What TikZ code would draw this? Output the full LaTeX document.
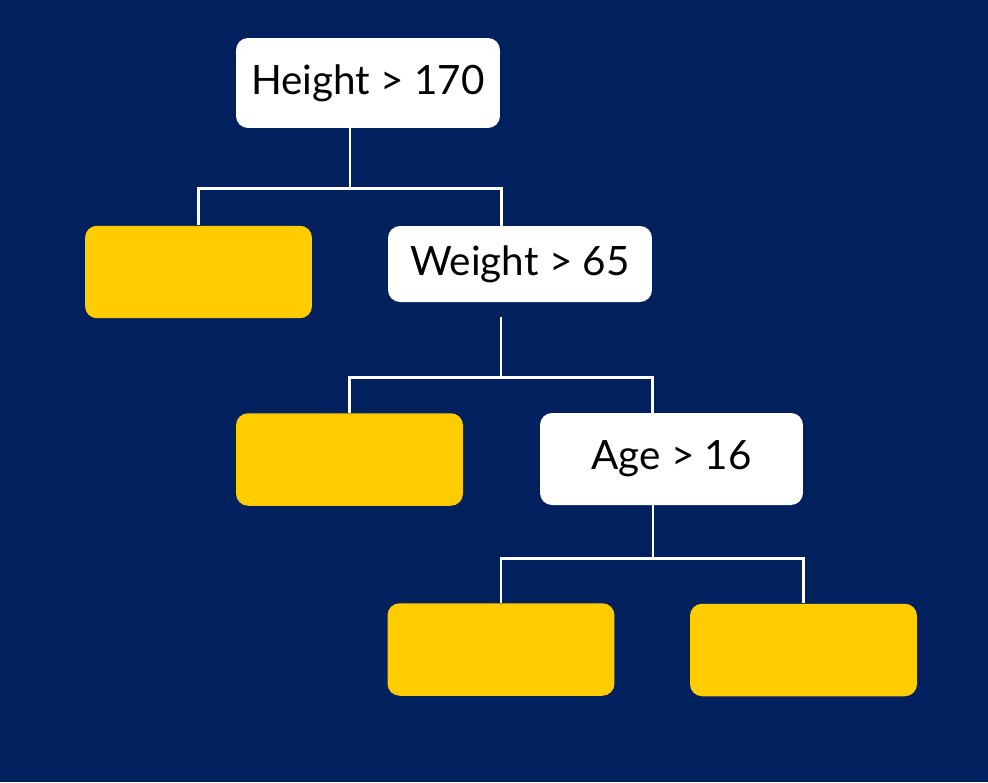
\documentclass[tikz,border=0pt]{standalone}
\usepackage{fontspec}
\setmainfont{Lato}
\usepackage{tikz}
\usetikzlibrary{positioning,calc}
\definecolor{navy}{RGB}{0,33,94}
\definecolor{leafyellow}{RGB}{255,204,0}

\begin{document}
\begin{tikzpicture}[
    x=0.02cm, y=-0.02cm,
    test/.style={rectangle, fill=white, text=black, rounded corners=0.24cm, minimum width=5.28cm, minimum height=1.8cm, inner sep=0pt, align=center, font=\fontsize{23}{27}\selectfont},
    leaf/.style={rectangle, fill=leafyellow, rounded corners=0.24cm, minimum width=4.54cm, minimum height=1.85cm, inner sep=0pt},
    link/.style={draw=white, line width=1.7pt}
]

% Background
\fill[navy] (0,0) rectangle (988,782);
\useasboundingbox (0,0) rectangle (988,782);

% Split nodes
\node[test] (height) at (368,83) {Height > 170};
\node[test, minimum height=1.52cm] (weight) at (520,264) {Weight > 65};
\node[test, minimum width=5.26cm, minimum height=1.84cm] (age) at (671.5,459) {Age > 16};

% Leaves
\node[leaf] (leafA) at (198.5,272) {};
\node[leaf] (leafB) at (349.5,459.5) {};
\node[leaf] (leafC) at (501,649.5) {};
\node[leaf] (leafD) at (803.5,650) {};

% Forks
\coordinate (fork1) at (350,188);
\coordinate (fork2) at (501,377);
\coordinate (fork3) at (653,558);

% Branches
\draw[link] (height.south -| fork1) -- (fork1);
\draw[link] (leafA.north) |- (fork1) -| ([xshift=-0.38cm]weight.north);
\draw[link] ([yshift=-0.3cm]weight.south -| fork2) -- (fork2);
\draw[link] (leafB.north) |- (fork2) -| ([xshift=-0.39cm]age.north);
\draw[link] (age.south -| fork3) -- (fork3);
\draw[link] (leafC.north) |- (fork3) -| (leafD.north);

\end{tikzpicture}
\end{document}
